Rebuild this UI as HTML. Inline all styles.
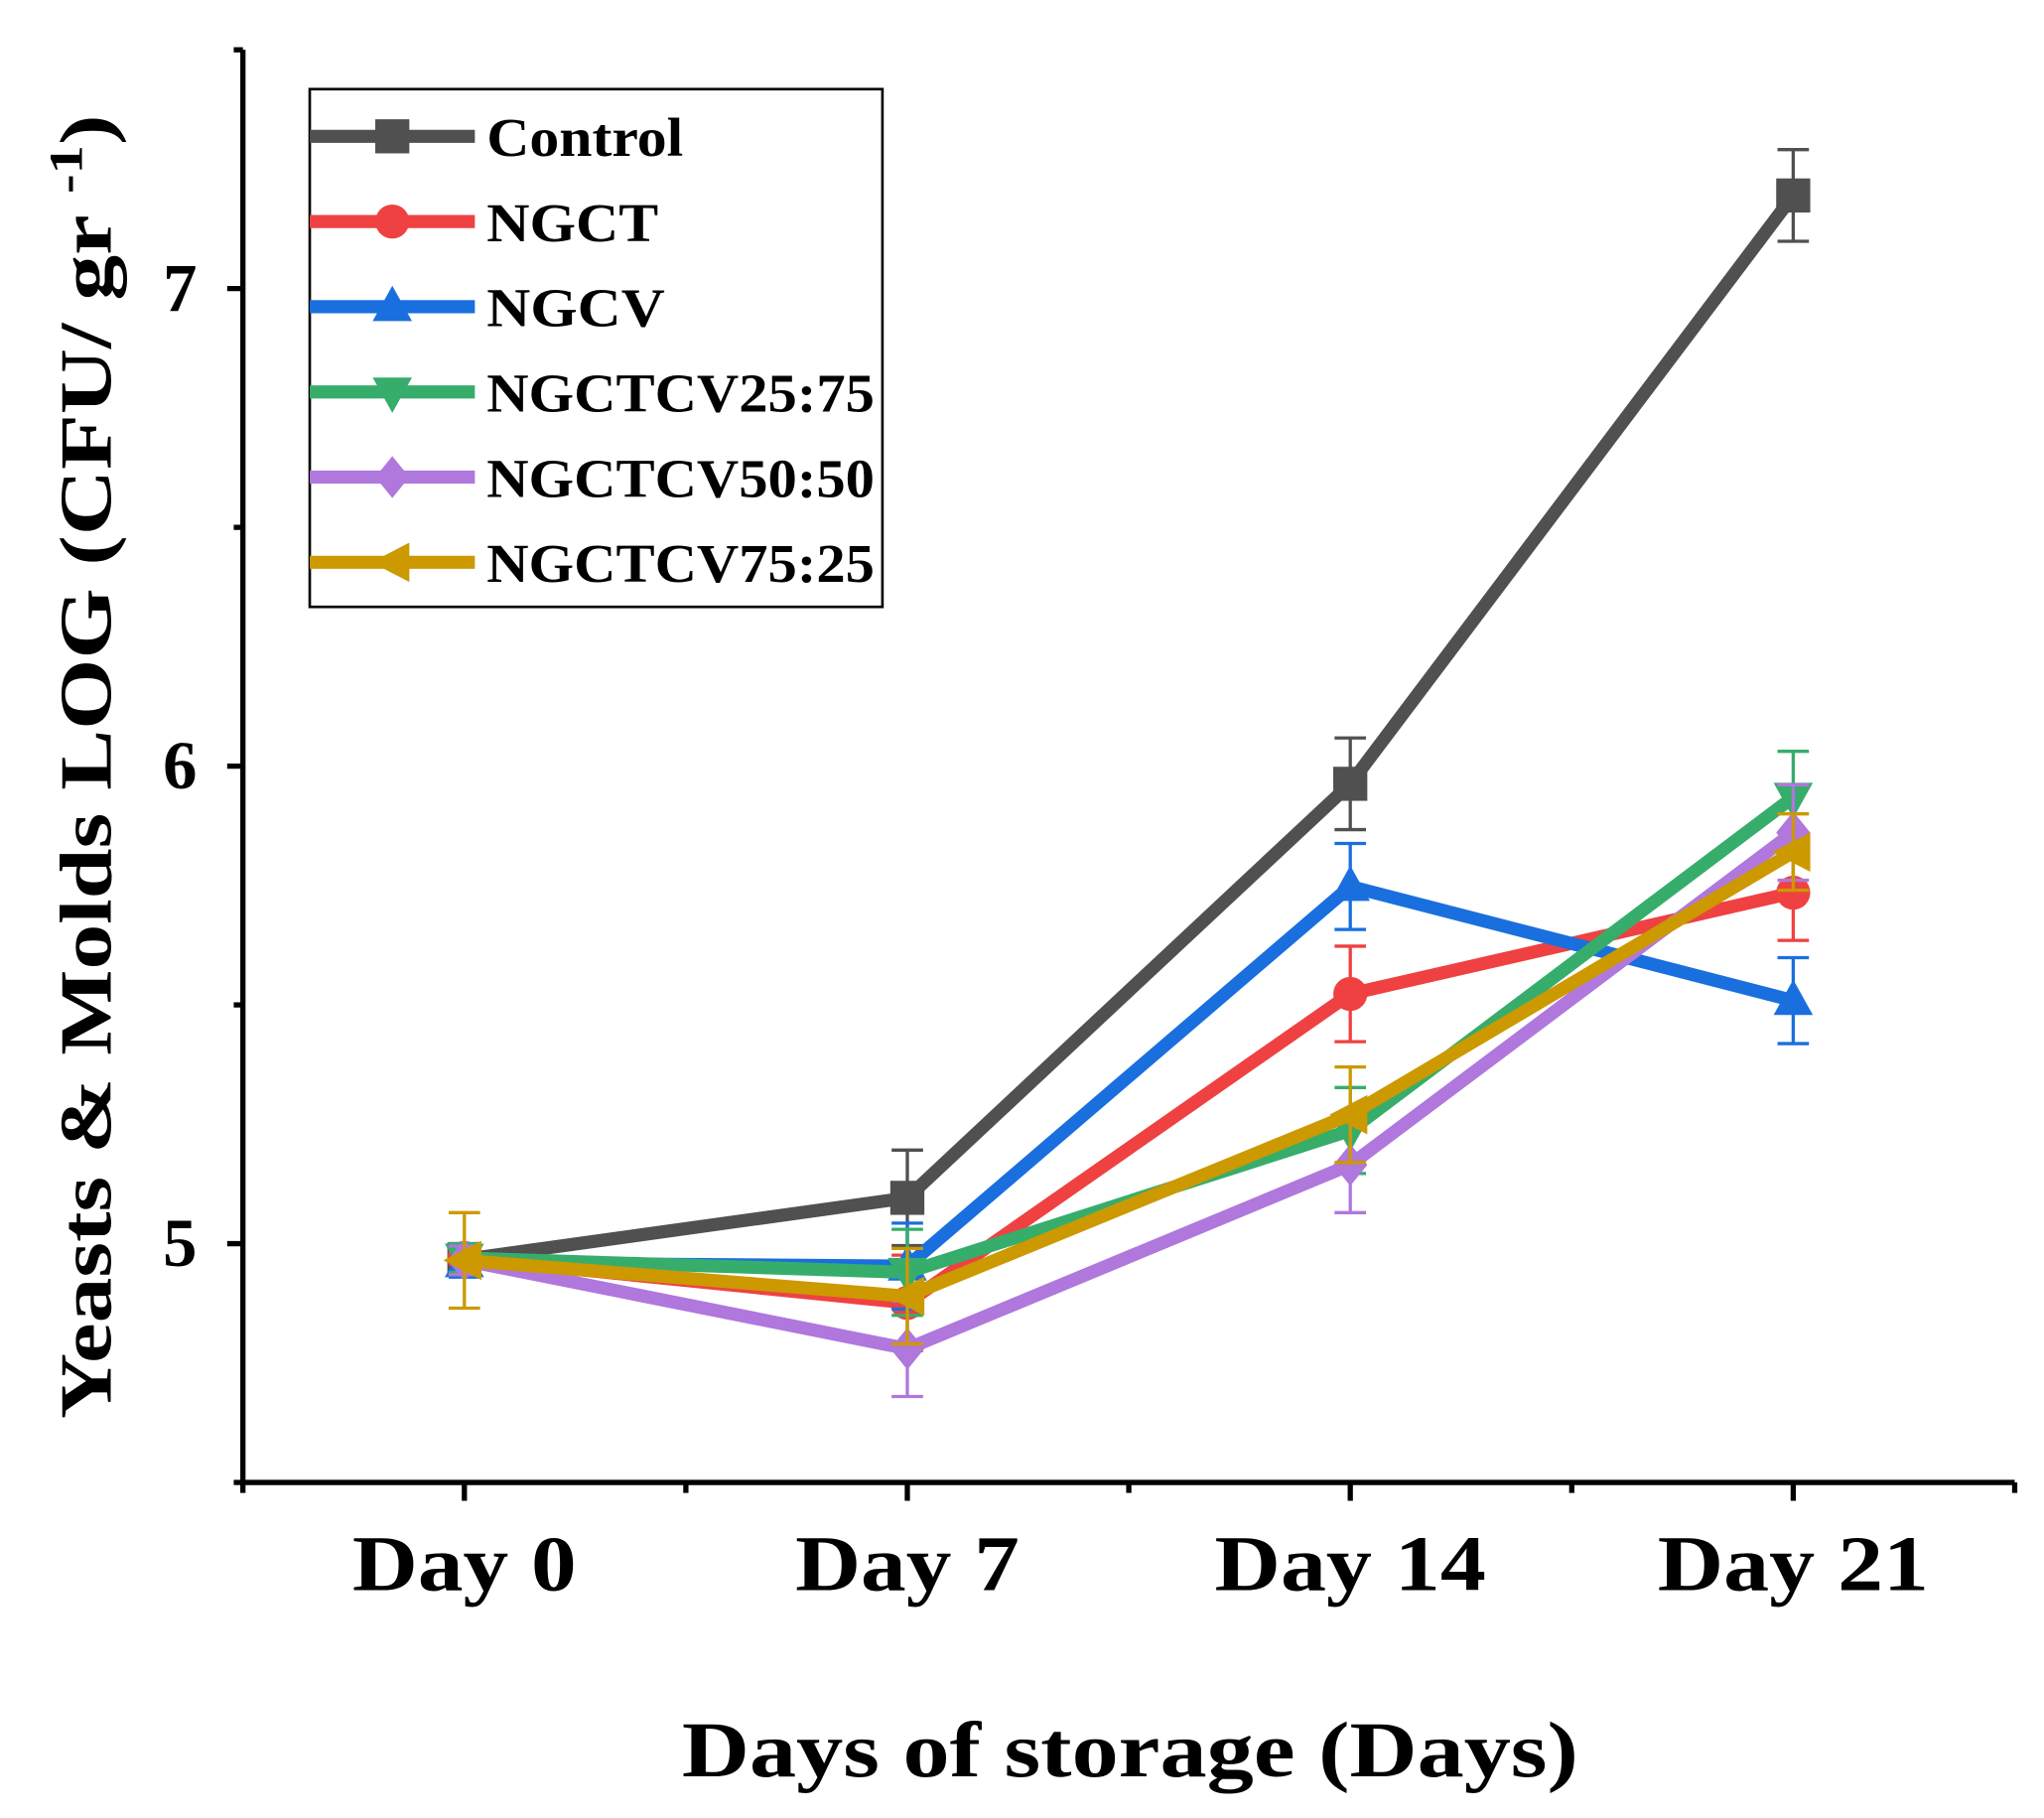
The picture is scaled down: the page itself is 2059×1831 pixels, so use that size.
<!DOCTYPE html>
<html><head><meta charset="utf-8"><style>
html,body{margin:0;padding:0;background:#fff;}
svg{display:block;}
text{font-family:"Liberation Serif",serif;font-weight:bold;fill:#000;}
</style></head><body>
<svg id="chart" width="2059" height="1831" viewBox="0 0 1559 1387" xmlns="http://www.w3.org/2000/svg">
<rect x="0" y="0" width="1559" height="1387" fill="#fff"/>
<g id="axes"></g>
<g id="plot"></g>
<g id="legend"></g>
<text transform="translate(84,585) rotate(-90)" text-anchor="middle" font-size="56" textLength="995" lengthAdjust="spacingAndGlyphs">Yeasts &amp; Molds LOG (CFU/ gr <tspan font-size="36" dy="-22">-1</tspan><tspan dy="22">)</tspan></text>
<text x="862" y="1355" text-anchor="middle" font-size="60" textLength="684" lengthAdjust="spacingAndGlyphs">Days of storage (Days)</text>
</svg>
<script>
const categories = ["Day 0","Day 7","Day 14","Day 21"];
const seriesNames = ["Control","NGCT","NGCV","NGCTCV25:75","NGCTCV50:50","NGCTCV75:25"];
const controlVals = [4.967,5.096,5.963,7.195];
const ngctVals = [4.97,4.876,5.523,5.735];
const ngcvVals = [4.96,4.953,5.748,5.509];
const cv2575Vals = [4.97,4.94,5.237,5.935];
const cv5050Vals = [4.965,4.78,5.165,5.861];
const cv7525Vals = [4.965,4.89,5.27,5.82];
const controlErr = [0.03,0.1,0.096,0.096];
const ngctErr = [0.03,0.1,0.1,0.1];
const ngcvErr = [0.03,0.09,0.09,0.09];
const cv2575Err = [0.03,0.09,0.09,0.096];
const cv5050Err = [0.03,0.1,0.1,0.1];
const cv7525Err = [0.1,0.1,0.1,0.08];
const yTicks = [5,6,7];
const yTickLabels = ["5","6","7"];

const NS="http://www.w3.org/2000/svg";
const X0=185,X1=1537,Y0=1131,Y1=38;
const yMin=4.5,yMax=7.5;
function xs(i){return X0+(i+0.5)*(X1-X0)/categories.length;}
function ys(v){return Y0-(v-yMin)/(yMax-yMin)*(Y0-Y1);}
function mk(tag,attrs,parent){const e=document.createElementNS(NS,tag);for(const k in attrs)e.setAttribute(k,attrs[k]);parent.appendChild(e);return e;}

const axes=document.getElementById('axes');
let e;
e=mk('line',{x1:X0,y1:Y1,x2:X0,y2:Y0+1,stroke:'#000','stroke-width':4},axes);


e=mk('line',{x1:X0-2,y1:Y0,x2:X1,y2:Y0,stroke:'#000','stroke-width':4},axes);


for(let v=yMin;v<=yMax+1e-9;v+=0.5){
  const major=yTicks.indexOf(v)>=0;
  e=mk('line',{x1:X0-(major?12:7),y1:ys(v),x2:X0,y2:ys(v),stroke:'#000','stroke-width':4},axes);
  
  
}
yTicks.forEach((v,i)=>{
  e=mk('text',{x:150,y:ys(v)+17,'text-anchor':'end','font-size':52},axes);
  e.textContent=yTickLabels[i];
  
  
});
for(let k=0;k<=categories.length*2;k++){
  const x=X0+k*(X1-X0)/(categories.length*2);
  const major=k%2===1;
  e=mk('line',{x1:x,y1:Y0,x2:x,y2:Y0+(major?14:8),stroke:'#000','stroke-width':4},axes);
  
  
}
categories.forEach((c,i)=>{
  e=mk('text',{x:xs(i),y:1213,'text-anchor':'middle','font-size':60,textLength:(c.length>5?207:171),lengthAdjust:'spacingAndGlyphs'},axes);
  e.textContent=c;
  
  
});

const colors=['#505050','#ef4141','#1a6fdf','#37ad6b','#b077dd','#cc9900'];
const vals=[controlVals,ngctVals,ngcvVals,cv2575Vals,cv5050Vals,cv7525Vals];
const errs=[controlErr,ngctErr,ngcvErr,cv2575Err,cv5050Err,cv7525Err];
const shapes=['square','circle','up','down','diamond','left'];
const legendWidths=[150,131,136,296,296,296];

function marker(shape,x,y,color,parent){
  const s=13;let m;
  if(shape==='square')m=mk('rect',{x:x-s,y:y-s,width:2*s,height:2*s,fill:color},parent);
  else if(shape==='circle')m=mk('circle',{cx:x,cy:y,r:s,fill:color},parent);
  else{
    let p;
    if(shape==='up')p=[[x,y-s-3],[x+s+2,y+s-2],[x-s-2,y+s-2]];
    else if(shape==='down')p=[[x,y+s+3],[x+s+2,y-s+2],[x-s-2,y-s+2]];
    else if(shape==='diamond')p=[[x,y-s-3],[x+s,y],[x,y+s+3],[x-s,y]];
    else p=[[x-s-3,y],[x+s,y-s-2],[x+s,y+s+2]];
    m=mk('polygon',{points:p.map(q=>q.join(',')).join(' '),fill:color},parent);
  }
  return m;
}

const plot=document.getElementById('plot');
vals.forEach((arr,si)=>{
  const g=mk('g',{},plot);
  
  
  arr.forEach((v,i)=>{
    const x=xs(i),yt=ys(v+errs[si][i]),yb=ys(v-errs[si][i]);
    const eb=mk('path',{d:`M${x},${yt}V${yb}M${x-12},${yt}H${x+12}M${x-12},${yb}H${x+12}`,stroke:colors[si],'stroke-width':2.5,fill:'none'},g);
    
    
  });
  const pl=mk('polyline',{points:arr.map((v,i)=>xs(i)+','+ys(v)).join(' '),stroke:colors[si],'stroke-width':10,fill:'none','stroke-linejoin':'miter'},g);
  
  
  arr.forEach((v,i)=>{
    const m=marker(shapes[si],xs(i),ys(v),colors[si],g);
    
    
  });
});

const leg=document.getElementById('legend');
e=mk('rect',{x:236,y:68,width:437,height:395,fill:'#fff',stroke:'#000','stroke-width':2},leg);


seriesNames.forEach((n,si)=>{
  const y=104+si*65;
  const g=mk('g',{},leg);
  
  
  mk('line',{x1:236,y1:y,x2:362,y2:y,stroke:colors[si],'stroke-width':10},g);
  marker(shapes[si],299,y,colors[si],g);
  const t=mk('text',{x:371,y:y+15,'font-size':42,textLength:legendWidths[si],lengthAdjust:'spacingAndGlyphs'},g);
  t.textContent=n;
});
</script>
</body></html>
